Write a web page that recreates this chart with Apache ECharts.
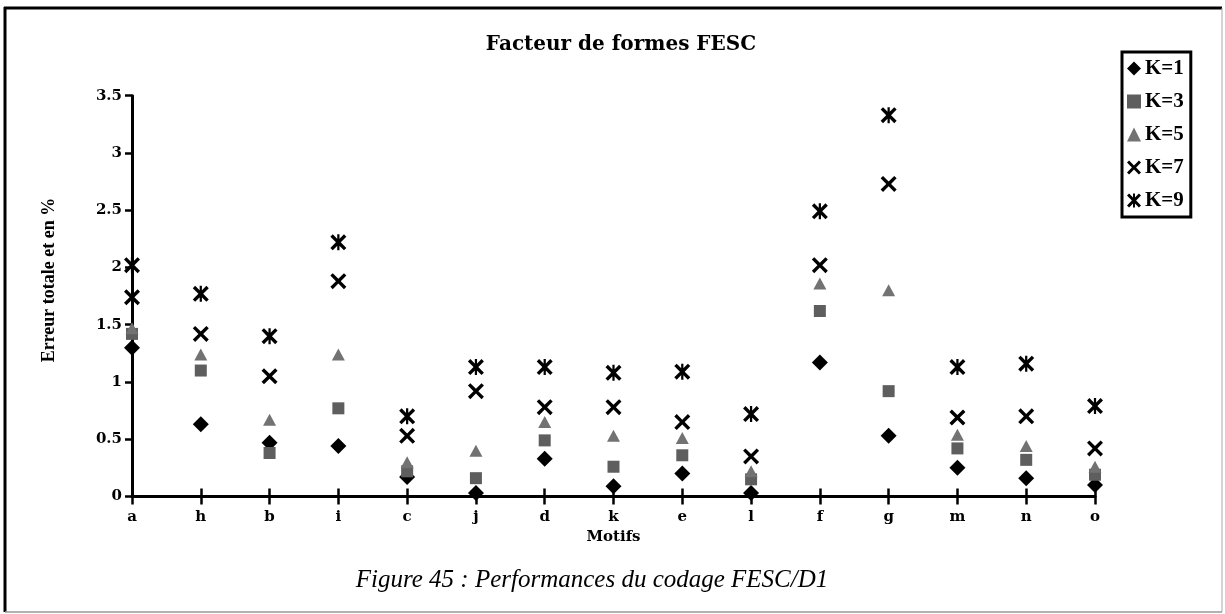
<!DOCTYPE html>
<html>
<head>
<meta charset="utf-8">
<script src="https://cdn.jsdelivr.net/npm/echarts@6/dist/echarts.min.js"></script>
<style>
html,body{margin:0;padding:0;background:#fff;}
#chart{width:1225px;height:614px;}
</style>
</head>
<body>
<div id="chart"></div>
<script>
const categories = ['a','h','b','i','c','j','d','k','e','l','f','g','m','n','o'];
const seriesNames = ['K=1','K=3','K=5','K=7','K=9'];
const k1 = [1.30,0.63,0.47,0.44,0.17,0.03,0.33,0.09,0.20,0.03,1.17,0.53,0.25,0.16,0.10];
const k3 = [1.42,1.10,0.38,0.77,0.22,0.16,0.49,0.26,0.36,0.15,1.62,0.92,0.42,0.32,0.19];
const k5 = [1.47,1.24,0.67,1.24,0.30,0.40,0.65,0.53,0.51,0.22,1.86,1.80,0.54,0.44,0.26];
const k7 = [1.74,1.42,1.05,1.88,0.53,0.92,0.78,0.78,0.65,0.35,2.02,2.73,0.69,0.70,0.42];
const k9 = [2.02,1.77,1.40,2.22,0.70,1.13,1.13,1.08,1.09,0.72,2.49,3.33,1.13,1.16,0.79];
const yTicks = { min: 0, max: 3.5, interval: 0.5 };

const titleText = 'Facteur de formes FESC';
const xName = 'Motifs';
const yName = 'Erreur totale et en %';
const captionText = 'Figure 45 : Performances du codage FESC/D1';

const crossPath = 'path://M0,3 L3,0 L10,7 L17,0 L20,3 L13,10 L20,17 L17,20 L10,13 L3,20 L0,17 L7,10 Z';
const starPath = 'path://M0,3 L3,0 L10,7 L17,0 L20,3 L13,10 L20,17 L17,20 L10,13 L3,20 L0,17 L7,10 Z M8.6,0 L11.4,0 L11.4,20 L8.6,20 Z';

const serifB = '"Liberation Serif", "Times New Roman", serif';
const dejaB = '"DejaVu Serif", serif';

const chart = echarts.init(document.getElementById('chart'), null, {renderer: 'canvas'});

function sc(name, data, symbol, size, color) {
  return {
    name: name, type: 'scatter', data: data, symbol: symbol, symbolSize: size,
    itemStyle: { color: color, opacity: 1 }, xAxisIndex: 0, yAxisIndex: 0,
    emphasis: { disabled: true }, animation: false
  };
}

const option = {
  backgroundColor: '#fff',
  animation: false,
  title: {
    text: titleText, left: 616, top: 30, textAlign: 'center',
    textStyle: { fontFamily: dejaB, fontWeight: 'bold', fontSize: 20, color: '#000' }
  },
  legend: {
    orient: 'vertical', left: 1122, top: 52, width: 76,
    padding: [6, 7, 6, 5], itemGap: 12, itemWidth: 14, itemHeight: 14,
    borderColor: '#000', borderWidth: 3,
    data: seriesNames,
    textStyle: { fontFamily: serifB, fontWeight: 'bold', fontSize: 21, color: '#000', padding: [0,0,0,-1] },
    selectedMode: false
  },
  grid: { left: 132, right: 130, top: 95.7, bottom: 117.5, containLabel: false },
  xAxis: [{
    type: 'category', data: categories, boundaryGap: false,
    axisLine: { lineStyle: { color: '#000', width: 3 } },
    axisTick: { show: true, length: 8, alignWithLabel: true, lineStyle: { color: '#000', width: 2.5 } },
    axisLabel: { margin: 13, fontFamily: dejaB, fontWeight: 'bold', fontSize: 15, color: '#000', interval: 0 },
    name: xName, nameLocation: 'middle', nameGap: 29,
    nameTextStyle: { fontFamily: dejaB, fontWeight: 'bold', fontSize: 15, color: '#000' },
    splitLine: { show: false }
  }, {
    type: 'category', data: categories, boundaryGap: false, position: 'bottom',
    axisLine: { show: false },
    axisTick: { show: true, inside: true, length: 8, lineStyle: { color: '#000', width: 2.5 } },
    axisLabel: { show: false }, splitLine: { show: false }
  }],
  yAxis: {
    type: 'value', min: yTicks.min, max: yTicks.max, interval: yTicks.interval,
    axisLine: { show: true, lineStyle: { color: '#000', width: 3 } },
    axisTick: { show: true, length: 7, lineStyle: { color: '#000', width: 2.5 } },
    axisLabel: { margin: 10, fontFamily: dejaB, fontWeight: 'bold', fontSize: 15, color: '#000' },
    splitLine: { show: false }
  },
  series: [
    sc(seriesNames[0], k1, 'diamond', [16, 16], '#000'),
    sc(seriesNames[1], k3, 'rect', [12, 12], '#5e5e5e'),
    sc(seriesNames[2], k5, 'triangle', [13, 12], '#727272'),
    sc(seriesNames[3], k7, crossPath, [16, 16], '#000'),
    sc(seriesNames[4], k9, starPath, [16, 16], '#000')
  ],
  graphic: [
    { type: 'text', x: 49, y: 280, rotation: Math.PI / 2,
      style: { text: yName, font: 'bold 18px ' + serifB, fill: '#000', align: 'center', verticalAlign: 'middle' } },
    { type: 'text', x: 592, y: 580,
      style: { text: captionText, font: 'italic 25px ' + serifB, fill: '#000', align: 'center', verticalAlign: 'middle' } },
    { type: 'line', shape: { x1: 4, y1: 8, x2: 1222, y2: 8 }, style: { stroke: '#000', lineWidth: 3 } },
    { type: 'line', shape: { x1: 5, y1: 7, x2: 5, y2: 612 }, style: { stroke: '#000', lineWidth: 3 } },
    { type: 'line', shape: { x1: 1222, y1: 8, x2: 1222, y2: 612 }, style: { stroke: '#aaa', lineWidth: 1 } },
    { type: 'line', shape: { x1: 5, y1: 612, x2: 1222, y2: 612 }, style: { stroke: '#999', lineWidth: 1.5 } }
  ]
};
chart.setOption(option);
</script>
</body>
</html>
